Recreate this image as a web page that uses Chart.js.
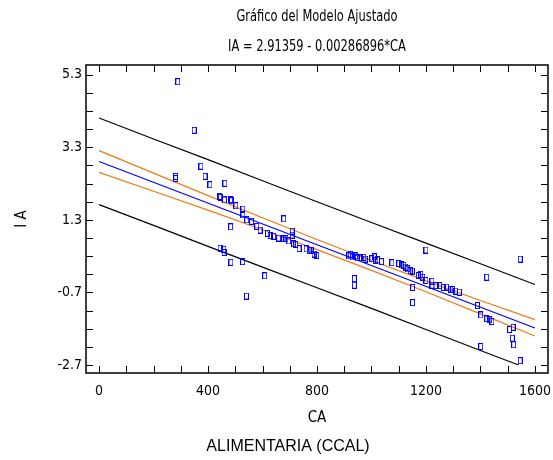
<!DOCTYPE html>
<html>
<head>
<meta charset="utf-8">
<script src="https://cdn.jsdelivr.net/npm/chart.js@4/dist/chart.umd.min.js"></script>
<style>
  html, body { margin: 0; padding: 0; background: #fff; }
  #wrap { width: 553px; height: 460px; }
</style>
</head>
<body>
<div id="wrap"><canvas id="chart" width="553" height="460"></canvas></div>
<script>
// observaciones (CA, IA)
const caValues = [289, 349, 281, 281, 374, 389, 407, 462, 443, 445, 460, 483, 486, 502, 528, 528,
  542, 560, 483, 579, 591, 678, 618, 628, 641, 659, 678, 686, 696, 709, 709, 714, 722, 734,
  760, 771, 778, 789, 799, 444, 458, 459, 484, 527, 608, 541,
  917, 922, 929, 942, 948, 958, 972, 977, 1001, 1011, 1016, 1023, 1037, 937, 937, 1075,
  1100, 1111, 1119, 1126, 1133, 1142, 1150, 1172, 1181, 1188, 1200, 1222, 1222, 1237, 1251,
  1264, 1276, 1291, 1298, 1310, 1323, 1151, 1151, 1200,
  1389, 1401, 1423, 1423, 1434, 1442, 1401, 1507, 1520, 1517, 1522, 1546, 1546];
const iaValues = [5.11, 3.77, 2.50, 2.44, 2.78, 2.50, 2.27, 2.31, 1.95, 1.92, 1.85, 1.86, 1.83, 1.69, 1.60, 1.44,
  1.30, 1.26, 1.11, 1.12, 1.02, 1.33, 0.93, 0.87, 0.85, 0.80, 0.78, 0.78, 0.72, 0.99, 0.88, 0.64, 0.63, 0.51,
  0.50, 0.47, 0.47, 0.36, 0.32, 0.52, 0.49, 0.40, 0.13, 0.15, -0.24, -0.80,
  0.31, 0.35, 0.28, 0.31, 0.25, 0.25, 0.27, 0.22, 0.23, 0.28, 0.18, 0.20, 0.15, -0.32, -0.50, 0.12,
  0.10, 0.06, 0.05, 0.00, -0.05, -0.10, -0.11, -0.23, -0.20, -0.28, -0.37, -0.39, -0.50, -0.51, -0.51,
  -0.56, -0.55, -0.61, -0.62, -0.66, -0.69, -0.56, -0.98, 0.47,
  -1.06, -1.32, -0.28, -1.42, -1.45, -1.50, -2.19, -1.72, -1.66, -1.96, -2.14, 0.22, -2.58];

// recta ajustada y limites
const fitX = [0, 1600];
const fitY = [2.91, -1.68];
const bandX = [0, 200, 400, 600, 800, 1000, 1200, 1400, 1600];
const confUpper = [3.21, 2.59, 1.97, 1.36, 0.76, 0.18, -0.38, -0.92, -1.45];
const confLower = [2.61, 2.09, 1.57, 1.03, 0.48, -0.09, -0.68, -1.29, -1.90];
const predUpper = [4.11, 3.53, 2.96, 2.38, 1.80, 1.23, 0.66, 0.09, -0.48];
const predLowerX = [0, 200, 400, 600, 800, 1000, 1200, 1400, 1540];
const predLower = [1.72, 1.15, 0.57, 0.00, -0.57, -1.14, -1.72, -2.30, -2.70];

// ejes
const xTicks = [0, 400, 800, 1200, 1600];
const yTicks = [-2.7, -0.7, 1.3, 3.3, 5.3];

const FONT = "'Liberation Sans Narrow', 'Arial Narrow', 'DejaVu Sans Condensed', 'Liberation Sans', sans-serif";
const toPts = (xs, ys) => xs.map((v, i) => ({ x: v, y: ys[i] }));

// marcador: cuadrito azul hueco
const marker = document.createElement('canvas');
marker.width = 5; marker.height = 7;
const mctx = marker.getContext('2d');
mctx.strokeStyle = '#0000ff';
mctx.lineWidth = 1;
mctx.strokeRect(0.5, 0.5, 4, 6);

function line(data, color, order) {
  return {
    type: 'line', data: data, borderColor: color, borderWidth: 1.2,
    pointRadius: 0, fill: false, tension: 0, order: order
  };
}

// texto un poco estrecho
function narrowText(ctx, txt, x, y, sx) {
  ctx.save();
  ctx.translate(x, y);
  ctx.scale(sx, 1);
  ctx.fillText(txt, 0, 0);
  ctx.restore();
}

// marco, marcas interiores y titulos
const framePlugin = {
  id: 'framePlugin',
  afterDraw(chart) {
    const { ctx, chartArea: a, scales: { x, y } } = chart;
    ctx.save();
    ctx.strokeStyle = '#000';
    ctx.lineWidth = 1;
    ctx.beginPath();
    for (let v = 0; v <= 1600; v += 100) {
      const px = Math.round(x.getPixelForValue(v)) + 0.5;
      ctx.moveTo(px, a.bottom); ctx.lineTo(px, a.bottom - 7);
      ctx.moveTo(px, a.top); ctx.lineTo(px, a.top + 7);
    }
    for (let v = -2.7; v <= 5.31; v += 0.5) {
      const py = Math.round(y.getPixelForValue(v)) + 0.5;
      ctx.moveTo(a.left, py); ctx.lineTo(a.left + 7, py);
      ctx.moveTo(a.right, py); ctx.lineTo(a.right - 7, py);
    }
    ctx.stroke();
    ctx.lineWidth = 1.5;
    ctx.strokeRect(a.left, a.top, a.right - a.left, a.bottom - a.top);

    ctx.fillStyle = '#000';
    ctx.textAlign = 'center';
    ctx.textBaseline = 'middle';
    ctx.font = '15px ' + FONT;
    const cx = (a.left + a.right) / 2;
    narrowText(ctx, 'Gráfico del Modelo Ajustado', cx, 17, 0.85);
    narrowText(ctx, 'IA = 2.91359 - 0.00286896*CA', cx, 47, 0.85);
    ctx.font = "16px 'Liberation Sans', Arial, sans-serif";
    ctx.fillText('ALIMENTARIA (CCAL)', 288, 447);
    ctx.restore();
  }
};

new Chart(document.getElementById('chart'), {
  type: 'scatter',
  data: {
    datasets: [
      {
        type: 'scatter', data: toPts(caValues, iaValues),
        pointStyle: marker, pointRadius: 3, pointHoverRadius: 3, order: 0
      },
      line(toPts(fitX, fitY), '#0000ff', 1),
      line(toPts(bandX, confUpper), '#ee7a12', 2),
      line(toPts(bandX, confLower), '#ee7a12', 2),
      line(toPts(bandX, predUpper), '#000000', 3),
      line(toPts(predLowerX, predLower), '#000000', 3)
    ]
  },
  options: {
    responsive: false,
    animation: false,
    events: [],
    layout: { padding: { top: 65, right: 5, left: 0, bottom: 0 } },
    plugins: { legend: { display: false }, tooltip: { enabled: false } },
    scales: {
      x: {
        type: 'linear', min: -48, max: 1648,
        afterBuildTicks: s => { s.ticks = xTicks.map(v => ({ value: v })); },
        afterFit: s => { s.height = 87; s.paddingLeft = 0; s.paddingRight = 0; },
        grid: { display: false, drawTicks: false },
        border: { display: false },
        ticks: { color: '#000', padding: 10, font: { family: FONT, size: 14 },
          callback: v => String(v) },
        title: { display: true, text: 'CA', color: '#000', padding: { top: 0, bottom: 33 }, font: { family: FONT, size: 15 } }
      },
      y: {
        type: 'linear', min: -2.92, max: 5.57,
        afterBuildTicks: s => { s.ticks = yTicks.map(v => ({ value: v })); },
        afterFit: s => { s.width = 86; s.paddingTop = 0; s.paddingBottom = 0; },
        grid: { display: false, drawTicks: false },
        border: { display: false },
        ticks: { color: '#000', padding: 4, font: { family: FONT, size: 14 },
          callback: v => Number(v).toFixed(1) },
        title: { display: true, text: 'I A', color: '#000', padding: { top: 13, bottom: 0 }, font: { family: FONT, size: 15 } }
      }
    }
  },
  plugins: [framePlugin]
});
</script>
</body>
</html>
